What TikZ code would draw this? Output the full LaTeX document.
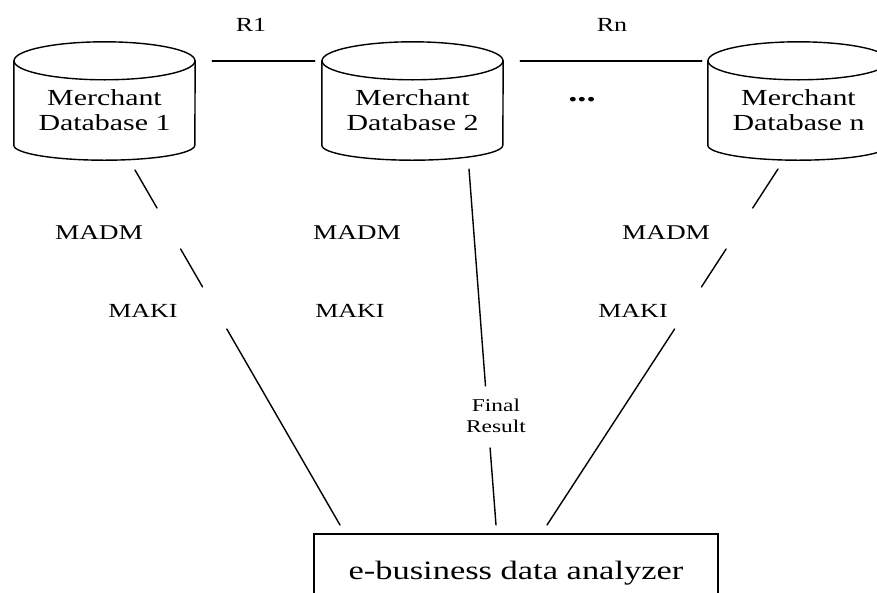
\documentclass[tikz,border=0pt]{standalone}
\usepackage{fontspec}
\setmainfont{Liberation Serif}[FakeStretch=1.3]
\usetikzlibrary{positioning}
\tikzset{
    %Define style for the database text area (outline drawn by \dbshape)
    database/.style={
           rectangle,
           minimum width=181pt,
           minimum height=98pt,
           inner sep=0pt,
           align=center,
           font=\fontsize{23}{25}\selectfont,
           },
    %Define style for the agent labels
    agent/.style={
           inner sep=0pt,
           font=\fontsize{21}{24}\selectfont,
           },
    analyzerbox/.style={
           draw, line width=1.4pt,
           minimum width=404pt,
           minimum height=78pt,
           font=\fontsize{26.5}{30}\selectfont,
           },
    % Define line style
    link/.style={
           line width=1.4pt,
           line cap=round,},
}
\newcommand{\dbshape}[1]{%
  \draw[link] (#1.north west) -- ([yshift=14pt]#1.south west)
     arc[start angle=180, end angle=360, x radius=90.5pt, y radius=15pt]
     -- (#1.north east);
  \draw[link] (#1.north) ellipse [x radius=90.5pt, y radius=19pt];
}

\begin{document}
\begin{tikzpicture}[x=1pt,y=-1pt]
\useasboundingbox (0,0) rectangle (877,592);
\clip (0,0) rectangle (877,592);
\node[database] (db1) at (104.5,110) {Merchant\\Database 1};
\node[database] (db2) at (412.5,110) {Merchant\\Database 2};
\node[database] (dbn) at (798.5,110) {Merchant\\Database n};
\dbshape{db1}
\dbshape{db2}
\dbshape{dbn}
\node[agent, font=\fontsize{20}{24}\selectfont] (r1) at (251,25) {R1};
\node[agent, font=\fontsize{20}{24}\selectfont] (rn) at (612,25) {Rn};
\node[agent, font=\bfseries\fontsize{28}{30}\selectfont] (dots) at (582,100) {...};
\draw[link] ([xshift=17pt]db1.north east) -- ([xshift=-7pt]db2.north west);
\draw[link] ([xshift=17pt]db2.north east) -- ([xshift=-6pt]dbn.north west);
\node[agent] (madm1) at (99,233) {MADM};
\node[agent] (madm2) at (357,233) {MADM};
\node[agent] (madmn) at (666,233) {MADM};
\node[agent, font=\fontsize{20}{24}\selectfont] (maki1) at (143,311) {MAKI};
\node[agent, font=\fontsize{20}{24}\selectfont] (maki2) at (350,311) {MAKI};
\node[agent, font=\fontsize{20}{24}\selectfont] (makin) at (633,311) {MAKI};
\node[agent, align=center, font=\fontsize{18}{21}\selectfont] (final) at (496,416) {Final\\Result};
\node[analyzerbox] (analyzer) at (516,573) {e-business data analyzer};
% left path: db1 -- analyzer
\coordinate (a1) at (135,170);
\coordinate (a2) at (157,208);
\coordinate (a3) at (180.6,249);
\coordinate (a4) at (202.6,287);
\coordinate (a5) at (226.8,329);
\coordinate (a6) at (340,525);
\draw[link] (a1) -- (a2) (a3) -- (a4) (a5) -- (a6);
% middle path: db2 -- analyzer
\coordinate (m1) at (469,169);
\coordinate (m2) at (485.5,386);
\coordinate (m3) at (490.1,448);
\coordinate (m4) at (496,525);
\draw[link] (m1) -- (m2) (m3) -- (m4);
% right path: dbn -- analyzer
\coordinate (n1) at (778,169);
\coordinate (n2) at (752.7,208);
\coordinate (n3) at (726.1,249);
\coordinate (n4) at (701.4,287);
\coordinate (n5) at (674.6,329);
\coordinate (n6) at (547,525);
\draw[link] (n1) -- (n2) (n3) -- (n4) (n5) -- (n6);
\end{tikzpicture}
\end{document}
